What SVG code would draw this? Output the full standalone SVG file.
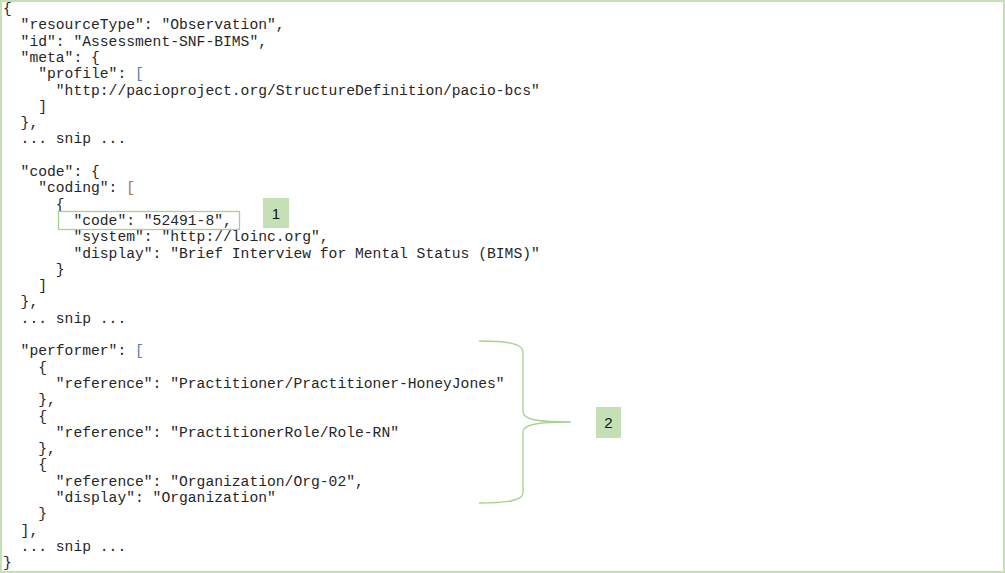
<svg xmlns="http://www.w3.org/2000/svg" width="1005" height="573" viewBox="0 0 1005 573">
<style>
.code{font-family:'Courier New','Liberation Mono',Cousine,'DejaVu Sans Mono',monospace;font-size:14.67px;fill:#262626}
.blue{fill:#4f81bd}
.brown{fill:#b0702e}
.lbl{font-family:'Liberation Sans',Arial,sans-serif;font-size:15px;fill:#111;text-anchor:middle}
.tag{fill:#c5e0b4}
.hl{fill:none;stroke:#a9d18e;stroke-width:1.3}
</style>
<rect x="1" y="1" width="1003" height="571" fill="#fff" stroke="#c5e0b4" stroke-width="2"/>
<g id="json" class="code">
<text x="3" y="13">{</text>
<text x="20.6" y="29.3" textLength="264" lengthAdjust="spacingAndGlyphs">"resourceType": "Observation",</text>
<text x="20.6" y="45.6" textLength="246.4" lengthAdjust="spacingAndGlyphs">"id": "Assessment-SNF-BIMS",</text>
<text x="20.6" y="61.9" textLength="79.2" lengthAdjust="spacingAndGlyphs">"meta": {</text>
<text x="38.2" y="78.2" textLength="88" lengthAdjust="spacingAndGlyphs">"profile":</text>
<text class="blue" x="135" y="78.2">[</text>
<text x="55.8" y="94.5" textLength="484" lengthAdjust="spacingAndGlyphs">"http://pacioproject.org/StructureDefinition/pacio-bcs"</text>
<text x="38.2" y="110.8">]</text>
<text x="20.6" y="127.1" textLength="17.6" lengthAdjust="spacingAndGlyphs">},</text>
<text x="20.6" y="143.4" textLength="105.6" lengthAdjust="spacingAndGlyphs">... snip ...</text>
<text x="20.6" y="176" textLength="79.2" lengthAdjust="spacingAndGlyphs">"code": {</text>
<text x="38.2" y="192.3" textLength="79.2" lengthAdjust="spacingAndGlyphs">"coding":</text>
<text class="brown" x="126.2" y="192.3">[</text>
<text x="55.8" y="208.6">{</text>
<text x="73.4" y="224.9" textLength="158.4" lengthAdjust="spacingAndGlyphs">"code": "52491-8",</text>
<text x="73.4" y="241.2" textLength="255.2" lengthAdjust="spacingAndGlyphs">"system": "http://loinc.org",</text>
<text x="73.4" y="257.5" textLength="466.4" lengthAdjust="spacingAndGlyphs">"display": "Brief Interview for Mental Status (BIMS)"</text>
<text x="55.8" y="273.8">}</text>
<text x="38.2" y="290.1">]</text>
<text x="20.6" y="306.4" textLength="17.6" lengthAdjust="spacingAndGlyphs">},</text>
<text x="20.6" y="322.7" textLength="105.6" lengthAdjust="spacingAndGlyphs">... snip ...</text>
<text x="20.6" y="355.3" textLength="105.6" lengthAdjust="spacingAndGlyphs">"performer":</text>
<text class="blue" x="135" y="355.3">[</text>
<text x="38.2" y="371.6">{</text>
<text x="55.8" y="387.9" textLength="448.8" lengthAdjust="spacingAndGlyphs">"reference": "Practitioner/Practitioner-HoneyJones"</text>
<text x="38.2" y="404.2" textLength="17.6" lengthAdjust="spacingAndGlyphs">},</text>
<text x="38.2" y="420.5">{</text>
<text x="55.8" y="436.8" textLength="343.2" lengthAdjust="spacingAndGlyphs">"reference": "PractitionerRole/Role-RN"</text>
<text x="38.2" y="453.1" textLength="17.6" lengthAdjust="spacingAndGlyphs">},</text>
<text x="38.2" y="469.4">{</text>
<text x="55.8" y="485.7" textLength="308" lengthAdjust="spacingAndGlyphs">"reference": "Organization/Org-02",</text>
<text x="55.8" y="502" textLength="220" lengthAdjust="spacingAndGlyphs">"display": "Organization"</text>
<text x="38.2" y="518.3">}</text>
<text x="20.6" y="534.6" textLength="17.6" lengthAdjust="spacingAndGlyphs">],</text>
<text x="20.6" y="550.9" textLength="105.6" lengthAdjust="spacingAndGlyphs">... snip ...</text>
<text x="3" y="567.2">}</text>
</g>
<g id="callout1">
<rect class="hl" x="58.5" y="211.5" width="181" height="18"/>
<rect class="tag" x="263" y="198" width="26" height="30"/>
<text class="lbl" x="276" y="218.5">1</text>
</g>
<g id="callout2">
<path class="hl" d="M479,341 C505,341 523,343 523,352 L523,412 C523,420 540,422 571,422 C540,422 523,424 523,432 L523,493 C523,501 505,503 479,503"/>
<rect class="tag" x="596" y="407" width="25" height="31"/>
<text class="lbl" x="608.5" y="428">2</text>
</g>
</svg>
